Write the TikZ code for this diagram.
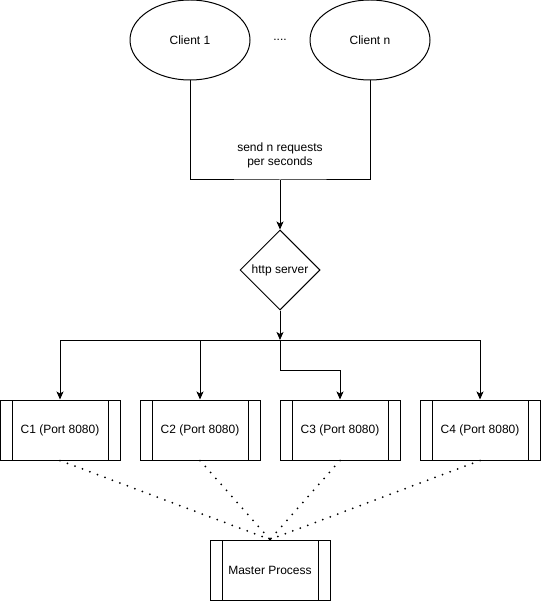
\documentclass[tikz,border=0pt]{standalone}
\usepackage{fontspec}
\setmainfont{Liberation Sans}
\usetikzlibrary{shapes.geometric,arrows.meta}
\begin{document}
\begin{tikzpicture}[x=1pt,y=-1pt,
  every node/.style={font=\fontsize{12}{14}\selectfont, line width=1pt},
  client/.style={ellipse, draw, minimum width=120pt, minimum height=80pt, inner sep=0pt},
  server/.style={diamond, draw, minimum width=80pt, minimum height=80pt, inner sep=0pt},
  proc/.style={rectangle, draw, minimum width=120pt, minimum height=60pt, inner sep=0pt,
    path picture={
      \draw[line width=1pt] ([xshift=12pt]path picture bounding box.north west) -- ([xshift=12pt]path picture bounding box.south west);
      \draw[line width=1pt] ([xshift=-12pt]path picture bounding box.north east) -- ([xshift=-12pt]path picture bounding box.south east);
    }},
  conn/.style={line width=1pt},
  arrow/.style={line width=1pt, -{Stealth[length=8pt,width=7pt,inset=2pt]}},
  dotline/.style={line width=2pt, dash pattern=on 0pt off 8pt, line cap=round}
]
\useasboundingbox (0,0) rectangle (541,601);

\node[client] (c1) at (190,40) {Client 1};
\node[client] (cn) at (370,40) {Client n};
\node (dots) at (280,40) {....};
\node[align=center] (lbl) at (280,155) {send n requests\\per seconds};

\coordinate (j1) at (280,180);
\node[server] (srv) at (280,270) {http server};
\coordinate (j2) at (280,340);
\coordinate (j3) at (280,370);

\node[proc] (p1) at (60,430) {C1 (Port 8080)};
\node[proc] (p2) at (200,430) {C2 (Port 8080)};
\node[proc] (p3) at (340,430) {C3 (Port 8080)};
\node[proc] (p4) at (480,430) {C4 (Port 8080)};
\node[proc] (m) at (270,570) {Master Process};

\draw[conn] (c1.south) |- (j1) -| (cn.south);
\draw[arrow] (j1) -- (srv.north);
\draw[arrow] (srv.south) -- (j2);
\draw[arrow] (j2) -| (p1.north);
\draw[arrow] (j2) -| (p2.north);
\draw[arrow] (j2) -| (p4.north);
\draw[arrow] (j2) -- (j3) -| (p3.north);

\draw[dotline] (p1.south) -- (m.north);
\draw[dotline] (p2.south) -- (m.north);
\draw[dotline] (p3.south) -- (m.north);
\draw[dotline] (p4.south) -- (m.north);
\end{tikzpicture}
\end{document}
